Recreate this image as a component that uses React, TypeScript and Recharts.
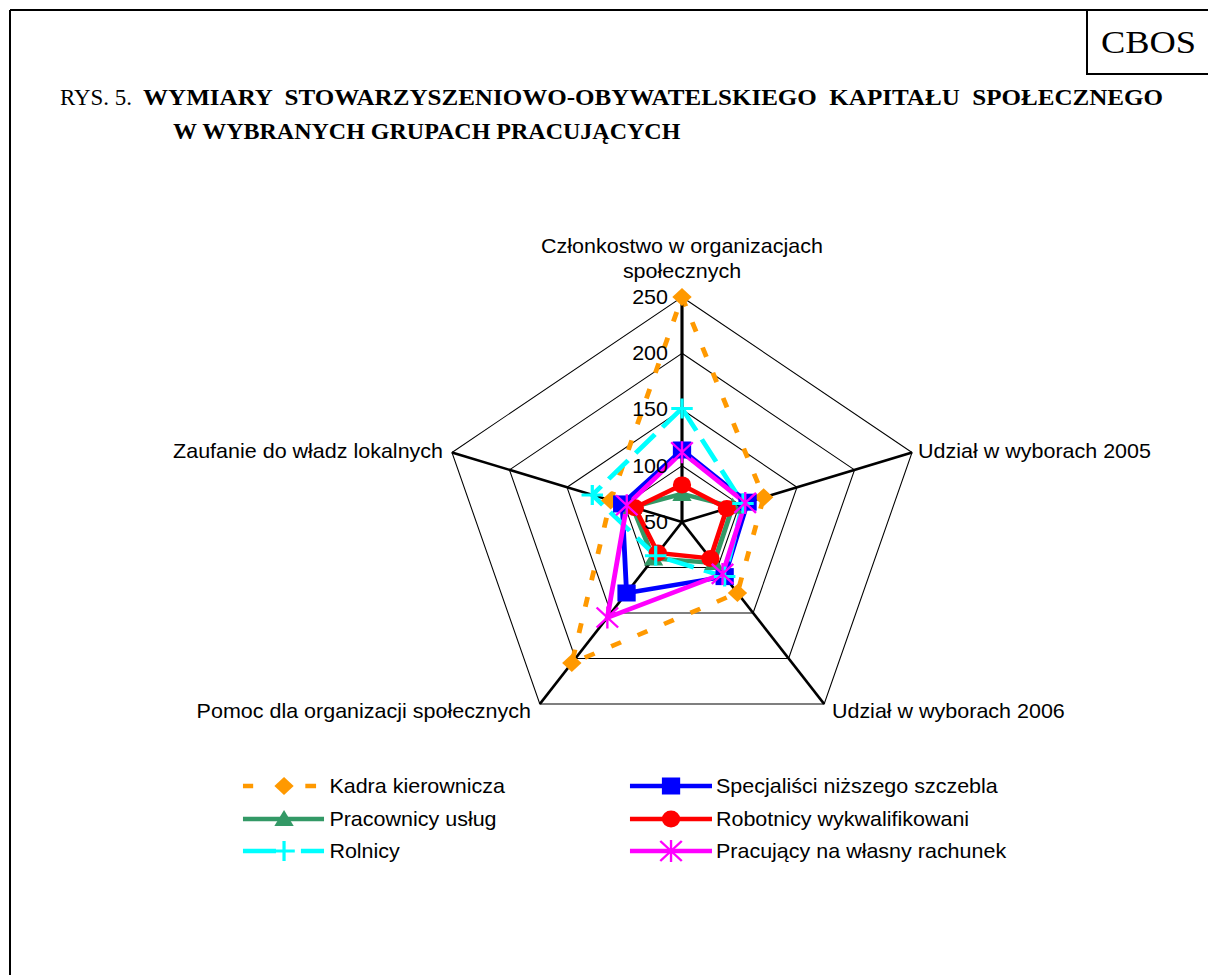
import React from "react";
import { RadarChart, Radar, PolarGrid, PolarAngleAxis, PolarRadiusAxis } from "recharts";

// ---------- DATA ----------
const categories = [
  "Członkostwo w organizacjach społecznych",
  "Udział w wyborach 2005",
  "Udział w wyborach 2006",
  "Pomoc dla organizacji społecznych",
  "Zaufanie do władz lokalnych",
];
const kadraKierownicza = [250, 121, 128, 205, 112];
const specjalisciNizszegoSzczebla = [114, 107, 110, 128, 102];
const pracownicyUslug = [75, 94, 95, 90, 93];
const robotnicyWykwalifikowani = [83, 89, 90, 84, 91];
const rolnicy = [151, 103, 110, 87, 128];
const pracujacyNaWlasnyRachunek = [112, 105, 107, 155, 98];
const radiusTicks = [50, 100, 150, 200, 250];
const radiusDomain = [50, 250];

const titlePrefix = "RYS. 5.";
const titleLine1 = "WYMIARY  STOWARZYSZENIOWO-OBYWATELSKIEGO  KAPITAŁU  SPOŁECZNEGO";
const titleLine2 = "W WYBRANYCH GRUPACH PRACUJĄCYCH";
const sourceLabel = "CBOS";

// ---------- SERIES CONFIG ----------
const series = [
  { key: "kadra", name: "Kadra kierownicza", values: kadraKierownicza, color: "#FF9900", dash: "10 17", legendDash: "9.5 48.5 10", marker: "diamond" },
  { key: "spec", name: "Specjaliści niższego szczebla", values: specjalisciNizszegoSzczebla, color: "#0000FF", dash: undefined, legendDash: undefined, marker: "square" },
  { key: "prac", name: "Pracownicy usług", values: pracownicyUslug, color: "#339966", dash: undefined, legendDash: undefined, marker: "triangle" },
  { key: "rob", name: "Robotnicy wykwalifikowani", values: robotnicyWykwalifikowani, color: "#FF0000", dash: undefined, legendDash: undefined, marker: "circle" },
  { key: "rol", name: "Rolnicy", values: rolnicy, color: "#00FFFF", dash: "26 10", legendDash: "30.7 23.2 21.5", marker: "plus" },
  { key: "pwr", name: "Pracujący na własny rachunek", values: pracujacyNaWlasnyRachunek, color: "#FF00FF", dash: undefined, legendDash: undefined, marker: "star" },
];

const data = categories.map((c, i) => {
  const row: any = { axis: c };
  series.forEach((s) => (row[s.key] = s.values[i]));
  return row;
});

const FONT = "'Liberation Sans', Arial, sans-serif";
const SERIF = "'Liberation Serif', 'Times New Roman', serif";
const SX = 1.075;
const CX = 682;
const CY = 522;

function MarkerShape({ type, cx, cy, color }: any) {
  switch (type) {
    case "diamond":
      return <polygon points={`${cx},${cy - 9} ${cx + 9},${cy} ${cx},${cy + 9} ${cx - 9},${cy}`} fill={color} />;
    case "square":
      return <rect x={cx - 8.5} y={cy - 8.5} width={17} height={17} fill={color} />;
    case "triangle":
      return <polygon points={`${cx},${cy - 9} ${cx + 9},${cy + 7} ${cx - 9},${cy + 7}`} fill={color} />;
    case "circle":
      return <circle cx={cx} cy={cy} r={8.5} fill={color} />;
    case "plus":
      return <path d={`M${cx - 10},${cy}H${cx + 10}M${cx},${cy - 10}V${cy + 10}`} stroke={color} strokeWidth={3} fill="none" />;
    case "star":
      return (
        <path
          d={`M${cx - 10},${cy - 10}L${cx + 10},${cy + 10}M${cx - 10},${cy + 10}L${cx + 10},${cy - 10}M${cx},${cy - 11}V${cy + 11}`}
          stroke={color}
          strokeWidth={2.2}
          fill="none"
        />
      );
    default:
      return null;
  }
}

const makeDot = (type: string, color: string) => (props: any) => {
  const { cx, cy, index } = props;
  if (cx == null || cy == null) return <g key={`d-${index}`} />;
  return (
    <g key={`d-${type}-${index}`}>
      <MarkerShape type={type} cx={cx} cy={cy} color={color} />
    </g>
  );
};

const RadiusTick = (props: any) => {
  const { x, y, payload } = props;
  return (
    <text x={x - 13} y={y} dy="0.35em" textAnchor="end" fontFamily={FONT} fontSize={20} fill="#000">
      {payload.value}
    </text>
  );
};

const AngleTick = (props: any) => {
  const { x, y, payload } = props;
  const i = categories.indexOf(payload.value);
  const common = { fontFamily: FONT, fontSize: 20, fill: "#000" };
  if (i === 0) {
    const words = String(payload.value).split(" ");
    const l1 = words.slice(0, -1).join(" ");
    const l2 = words[words.length - 1];
    return (
      <g>
        <text x={x} y={y - 43} dy="0.35em" textAnchor="middle" {...common}>{l1}</text>
        <text x={x} y={y - 18} dy="0.35em" textAnchor="middle" {...common}>{l2}</text>
      </g>
    );
  }
  const cfg: any = {
    1: { dx: -2, dy: 1, anchor: "start" },
    2: { dx: 2.5, dy: 0.5, anchor: "start" },
    3: { dx: -3.5, dy: 0.5, anchor: "end" },
    4: { dx: -0.7, dy: 1, anchor: "end" },
  }[i] || { dx: 0, dy: 0, anchor: "middle" };
  return (
    <text x={x + cfg.dx} y={y + cfg.dy} dy="0.35em" textAnchor={cfg.anchor} {...common}>
      {payload.value}
    </text>
  );
};

function LegendBlock() {
  const rows = [786, 819, 851];
  const cols = [
    { x1: 273.6, x2: 349, mx: 311.8, tx: 354 },
    { x1: 633.6, x2: 709.9, mx: 671.8, tx: 713.6 },
  ];
  const order = [
    [0, 0, 0],
    [1, 1, 0],
    [2, 0, 1],
    [3, 1, 1],
    [4, 0, 2],
    [5, 1, 2],
  ];
  return (
    <svg width={1208} height={975} style={{ position: "absolute", left: 0, top: 0 }}>
      {order.map(([si, ci, ri]) => {
        const s = series[si];
        const c = cols[ci];
        const y = rows[ri];
        return (
          <g key={s.key}>
            <line x1={c.x1} x2={c.x2} y1={y} y2={y} stroke={s.color} strokeWidth={4.5} strokeDasharray={s.legendDash} />
            <MarkerShape type={s.marker} cx={c.mx} cy={y} color={s.color} />
            <text x={c.tx} y={y} dy="0.35em" fontFamily={FONT} fontSize={20} fill="#000">
              {s.name}
            </text>
          </g>
        );
      })}
    </svg>
  );
}

export default function App() {
  return (
    <div style={{ position: "absolute", left: 0, top: 0, width: 1208, height: 975, background: "#fff", overflow: "hidden" }}>
      <div
        style={{
          position: "absolute",
          left: 0,
          top: 0,
          width: 1208,
          height: 975,
          transform: `scaleX(${SX})`,
          transformOrigin: `${CX}px 0px`,
        }}
      >
        <RadarChart
          width={1208}
          height={975}
          data={data}
          cx={CX}
          cy={CY}
          outerRadius={225}
          startAngle={90}
          endAngle={-270}
          margin={{ top: 0, right: 0, bottom: 0, left: 0 }}
        >
          <PolarGrid gridType="polygon" radialLines={false} stroke="#000" strokeWidth={1} />
          <PolarGrid gridType="polygon" polarRadius={[0]} stroke="#000" strokeWidth={2.5} />
          <PolarAngleAxis dataKey="axis" tick={AngleTick} tickLine={false} axisLine={false} />
          <PolarRadiusAxis
            angle={90}
            type="number"
            domain={radiusDomain as any}
            ticks={radiusTicks as any}
            tickCount={5}
            tick={RadiusTick}
            tickLine={false}
            axisLine={{ stroke: "#000", strokeWidth: 2.5 }}
          />
          {series.map((s) => (
            <Radar
              key={s.key}
              name={s.name}
              dataKey={s.key}
              stroke={s.color}
              strokeWidth={4.5}
              strokeDasharray={s.dash}
              fill="none"
              fillOpacity={0}
              dot={makeDot(s.marker, s.color)}
              isAnimationActive={false}
            />
          ))}
        </RadarChart>
        <LegendBlock />
      </div>
      <svg width={1208} height={975} style={{ position: "absolute", left: 0, top: 0, pointerEvents: "none" }}>
        <line x1={10} x2={1208} y1={10} y2={10} stroke="#000" strokeWidth={2} />
        <line x1={10} x2={10} y1={10} y2={975} stroke="#000" strokeWidth={2} />
        <line x1={1087} x2={1087} y1={10} y2={75} stroke="#000" strokeWidth={2} />
        <line x1={1087} x2={1208} y1={74} y2={74} stroke="#000" strokeWidth={2} />
        <text x={1101} y={53} fontFamily={SERIF} fontSize={32} textLength={95} lengthAdjust="spacingAndGlyphs" fill="#000">
          {sourceLabel}
        </text>
        <text x={60} y={105} fontFamily={SERIF} fontSize={24} textLength={72} lengthAdjust="spacingAndGlyphs" fill="#000">
          {titlePrefix}
        </text>
        <text x={143} y={105} fontFamily={SERIF} fontSize={24} fontWeight="bold" textLength={1020} lengthAdjust="spacingAndGlyphs" fill="#000" style={{ whiteSpace: "pre" }}>
          {titleLine1}
        </text>
        <text x={173} y={139} fontFamily={SERIF} fontSize={24} fontWeight="bold" fill="#000">
          {titleLine2}
        </text>
      </svg>
    </div>
  );
}
